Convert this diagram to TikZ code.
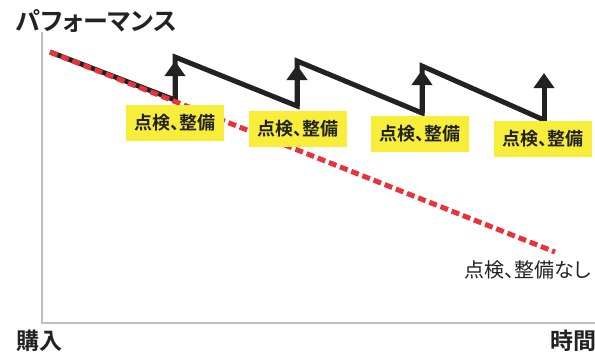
\documentclass[tikz,border=0pt]{standalone}
\usepackage{fontspec}
\usetikzlibrary{arrows.meta}
\newfontfamily\jpbold[RawFeature={+palt}]{Noto Sans CJK JP Bold}
\newfontfamily\jpreg[RawFeature={+palt}]{Noto Sans CJK JP}
\definecolor{axisgray}{HTML}{BDBDC4}
\definecolor{dashred}{HTML}{E8323C}
\definecolor{boxyellow}{HTML}{F8EE3A}
\definecolor{ink}{HTML}{222222}
\tikzset{
  axisline/.style={draw=axisgray, line width=2pt},
  perfline/.style={draw=ink, line width=5pt, line join=miter},
  upshaft/.style={draw=ink, line width=5pt, -{Triangle[width=20pt,length=15pt]}},
  nomaint/.style={draw=dashred, line width=5pt, dash pattern=on 8pt off 4pt},
  mbox/.style={fill=boxyellow, minimum width=98pt, minimum height=36pt, inner sep=0pt, text=ink, font=\jpbold\fontsize{18}{18}\selectfont},
  axislabel/.style={text=ink, inner sep=0pt, font=\jpbold\fontsize{23}{24}\selectfont},
}
\begin{document}
\begin{tikzpicture}[x=1pt,y=-1pt]
\useasboundingbox (0,0) rectangle (595,356);
% axes
\coordinate (org) at (42,323);
\coordinate (ytop) at (42,32);
\coordinate (xend) at (600,323);
\draw[axisline] (ytop) -- (org) -- (xend);
% title and axis labels
\node[text=ink, inner sep=0pt, anchor=west, font=\jpbold\fontsize{25}{26}\selectfont] (title) at (16,21) {パフォーマンス};
\node[axislabel, anchor=west] (buy) at (16,341) {購入};
\node[axislabel, anchor=west] (time) at (550,341) {時間};
% performance sawtooth
\coordinate (p0) at (50,52);
\coordinate (b1) at (175,100); \coordinate (t1) at (175,57);
\coordinate (b2) at (297,106); \coordinate (t2) at (297,61);
\coordinate (b3) at (422,113); \coordinate (t3) at (422,66);
\coordinate (b4) at (544,120); \coordinate (t4) at (544,73);
\coordinate (h1) at (175,61);
\coordinate (h2) at (297,65);
\coordinate (h3) at (422,70);
\draw[perfline] (p0) -- (b1) -- (t1) -- (b2) -- (t2) -- (b3) -- (t3) -- (b4);
\draw[upshaft] (b1) -- (h1);
\draw[upshaft] (b2) -- (h2);
\draw[upshaft] (b3) -- (h3);
\draw[upshaft] ([yshift=-2pt]b4) -- (t4);
% no-maintenance line
\coordinate (rend) at (555,252);
\draw[nomaint] (p0) -- (rend);
% maintenance boxes
\node[mbox] (m1) at (175,123) {点検、整備};
\node[mbox] (m2) at (298,128.5) {点検、整備};
\node[mbox] (m3) at (420,134) {点検、整備};
\node[mbox] (m4) at (543,139) {点検、整備};
% label for red line
\node[text=ink, inner sep=0pt, anchor=west, font=\jpreg\fontsize{20}{20}\selectfont] (nolabel) at (464,270) {点検、整備なし};
\end{tikzpicture}
\end{document}
